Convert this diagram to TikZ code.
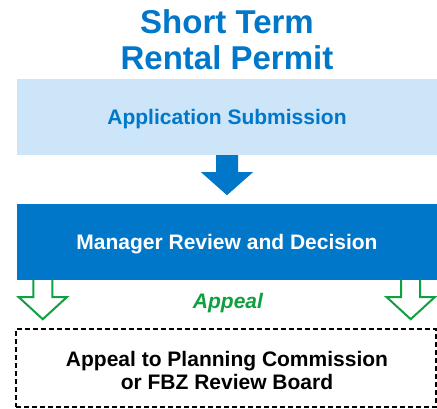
\documentclass[tikz,border=0pt]{standalone}
\usepackage{fontspec}
\setmainfont{Liberation Sans}
\usetikzlibrary{calc}
\definecolor{mainblue}{HTML}{0077C8}
\definecolor{lightblue}{HTML}{CCE5F8}
\definecolor{appealgreen}{HTML}{10A040}
\begin{document}
\begin{tikzpicture}[x=1pt,y=-1pt,
  stagebox/.style={rectangle,inner sep=0pt,minimum width=420pt,minimum height=76pt,font=\fontsize{21}{22}\selectfont\bfseries,align=center,text height=15pt,text depth=0pt},
  hollowarrow/.style={draw=appealgreen,line width=2pt,fill=white,line join=miter}]
\path[use as bounding box,fill=white] (0,0) rectangle (437,409);
\node[text=mainblue,font=\fontsize{33}{36.7}\selectfont\bfseries,align=center] (title) at (227,39.7) {Short Term\\Rental Permit};
\node[stagebox,fill=lightblue,text=mainblue] (b1) at (227,117) {Application Submission};
\node[stagebox,fill=mainblue,text=white] (b2) at (227,242) {Manager Review and Decision};
\node[rectangle,inner sep=0pt,minimum width=420pt,minimum height=78pt,draw=black,line width=1.5pt,dash pattern=on 5pt off 3pt] (b3) at (226,368) {};
\node[font=\fontsize{21}{23.3}\selectfont\bfseries,align=center] (b3text) at ($(b3.center)+(1,2.7)$) {Appeal to Planning Commission\\or FBZ Review Board};
\node[text=appealgreen,font=\fontsize{21}{22}\selectfont\bfseries\itshape] (appeal) at (228,303) {Appeal};
% blue arrow
\fill[mainblue] (b1.south) ++(-11,0) -- ++(0,17) -- ++(-15,0) -- ++(26,23) -- ++(26,-23) -- ++(-15,0) -- ++(0,-17) -- cycle;
% green hollow arrows
\coordinate (la) at ($(b2.south west)+(26,0)$);
\coordinate (ra) at ($(b2.south east)+(-26.5,0)$);
\foreach \c in {la,ra}{
  \draw[hollowarrow] (\c) ++(-9.5,0) -- ++(0,17) -- ++(-14.5,0) -- ++(24,22) -- ++(24,-22) -- ++(-14.5,0) -- ++(0,-17);
}
\end{tikzpicture}
\end{document}
